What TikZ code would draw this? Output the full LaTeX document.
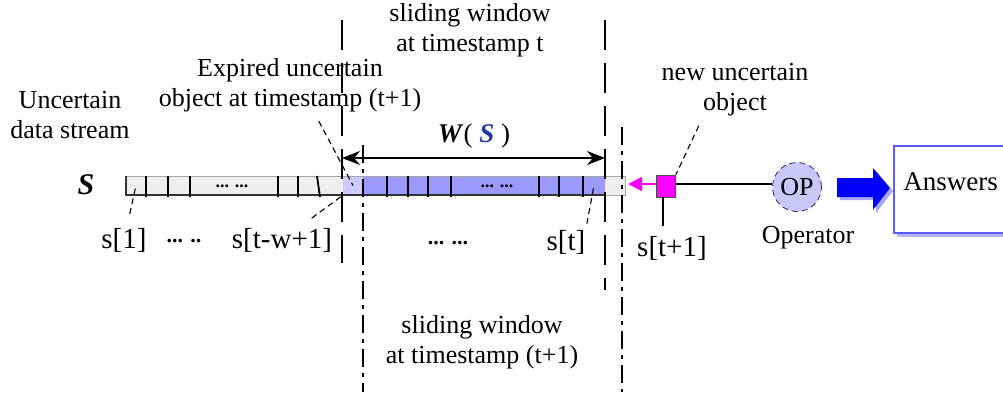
\documentclass[tikz,border=0pt]{standalone}
\usepackage{fontspec}
\setmainfont{Liberation Serif}
\usetikzlibrary{arrows.meta,positioning}

\begin{document}
\begin{tikzpicture}[
    x=0.5pt, y=-0.5pt,
    % Estilo para los textos
    label text/.style={font=\fontsize{13}{15}\selectfont, align=center, inner sep=0pt},
    index text/.style={font=\fontsize{14.5}{16}\selectfont, inner sep=0pt},
    dots text/.style={font=\fontsize{9}{10}\bfseries, inner sep=0pt},
    % Estilo para las celdas y las ventanas
    cell/.style={minimum height=9.5pt, inner sep=0pt, draw=none},
    window line/.style={line width=0.7pt, dash pattern=on 15pt off 6.5pt},
    window dashdot/.style={line width=0.7pt, dash pattern=on 9pt off 3pt on 2pt off 3pt},
    leader line/.style={line width=0.55pt, densely dashed},
    cell line/.style={line width=0.9pt}
]
    % Configuración de colores
    \definecolor{cellgrey}{RGB}{238,238,238}
    \definecolor{cellblue}{RGB}{153,153,255}
    \definecolor{expiredblue}{RGB}{204,204,255}
    \definecolor{opfill}{RGB}{200,200,248}
    \definecolor{opborder}{RGB}{30,30,120}
    \definecolor{answerblue}{RGB}{90,90,255}
    \definecolor{newmagenta}{RGB}{255,0,255}
    \definecolor{sblue}{RGB}{30,60,160}

    % Marco fijo de la figura
    \useasboundingbox (0,0) rectangle (1003,392);
    \clip (0,0) rectangle (1003,392);

    % Barra del flujo de datos
    \fill[cellgrey] (126,176) rectangle (625,195);
    \node[cell, fill=cellgrey, minimum width=10pt] (cellfirst) at (136,185.5) {};
    \node[cell, fill=expiredblue, minimum width=10pt] (cellexp) at (353,185.5) {};
    \fill[cellblue] (363,176) rectangle (605,195);
    \node[cell, minimum width=11pt] (celllast) at (594,185.5) {};
    \draw[gray!70] (126,176) rectangle (625,195);
    \draw[black!80, line width=0.9pt] (126,176) -- (126,195) -- (605,195);

    % Divisiones de las celdas
    \foreach \cx in {146,168,190,278,298,387,408,428,451,539,559,583}{
        \draw[cell line] (\cx,176) -- (\cx,197);
    }
    \draw[cell line] (317,176) -- (320,197);

    % Puntos suspensivos dentro de la barra
    \node[dots text] (dotsgrey) at (232,186) {... ...};
    \node[dots text] (dotsblue) at (497,186) {... ...};

    % Líneas de las ventanas deslizantes
    \coordinate (wtopleft) at (342,20);
    \coordinate (wbotleft) at (342,263);
    \coordinate (wtopright) at (605,20);
    \coordinate (wbotright) at (605,290);
    \draw[window line] (wtopleft) -- (wbotleft);
    \draw[window line] (wtopright) -- (wbotright);
    \coordinate (nwtopleft) at (363,145);
    \coordinate (nwbotleft) at (363,392);
    \coordinate (nwtopright) at (622,127);
    \coordinate (nwbotright) at (622,392);
    \draw[window dashdot] (nwtopleft) -- (nwbotleft);
    \draw[window dashdot] (nwtopright) -- (nwbotright);

    % Flecha del tamaño de la ventana W(S)
    \coordinate (wleft) at (342,158);
    \coordinate (wright) at (605,158);
    \draw[line width=0.8pt, {Stealth[length=9pt,width=7pt]}-{Stealth[length=9pt,width=7pt]}] (wleft) -- (wright);
    \node[font=\fontsize{13.5}{15}\selectfont, inner sep=0pt] (wsize) at (474,136)
        {\textbf{\textit{W}}( \textcolor{sblue}{\textbf{\textit{S}}} )};

    % Textos superiores
    \node[label text] (slidet) at (470,30) {sliding window\\at timestamp t};
    \node[label text] (expired) at (290,85) {Expired uncertain\\object at timestamp (t+1)};
    \node[label text] (stream) at (70,115) {Uncertain\\data stream};
    \node[label text] (newlab) at (735,90) {new uncertain\\object};
    \node[label text] (slidetone) at (482,342) {sliding window\\at timestamp (t+1)};

    % Nombre del flujo
    \node[font=\fontsize{15}{16}\selectfont, inner sep=0pt] (sname) at (86,185) {\textbf{\textit{S}}};

    % Índices bajo la barra
    \node[index text] (sone) at (124,240) {s[1]};
    \node[dots text, font=\fontsize{11}{12}\bfseries] (dotsone) at (184,241) {... ..};
    \node[index text] (stw) at (282,240) {s[t-w+1]};
    \node[dots text, font=\fontsize{11}{12}\bfseries] (dotstwo) at (448,243) {... ...};
    \node[index text] (st) at (566,242) {s[t]};

    % Líneas guía hacia las celdas
    \draw[leader line, shorten <=7pt] (sone) -- (cellfirst.center);
    \draw[leader line, shorten <=8pt] (stw) -- (cellexp.south west);
    \draw[leader line, shorten <=5pt] ([xshift=12pt]expired.south) -- (cellexp.center);
    \draw[leader line, shorten <=3pt] (st.north east) -- (celllast.center);

    % Nuevo objeto incierto
    \node[draw=black!70, fill=newmagenta, minimum width=9.5pt, minimum height=11pt, inner sep=0pt] (newobj) at (666,186) {};
    \coordinate (newtip) at (628,184);
    \draw[newmagenta, line width=1pt, -{Triangle[length=7pt,width=7pt]}] (newobj.west |- newtip) -- (newtip);
    \node[index text] (stone) at (672,248) {s[t+1]};
    \draw[line width=0.7pt] ([xshift=-1.5pt]newobj.south) -- ([xshift=-1.5pt,yshift=5pt]newobj.south |- stone.north);
    \draw[leader line, shorten <=5pt] ([xshift=-16pt]newlab.south) -- (newobj.north east);

    % Operador
    \node[circle, draw=opborder, densely dashed, fill=opfill, minimum size=24.5pt, inner sep=0pt,
        font=\fontsize{13}{15}\selectfont] (op) at (797,187) {OP};
    \draw[line width=0.8pt] (newobj.east |- newtip) -- (op.west |- newtip);
    \node[label text] (oplab) at (808,238) {Operator};

    % Flecha gruesa hacia las respuestas (con sombra)
    \fill[blue!35] (840,181) -- (876,181) -- (876,171) -- (893,191) -- (876,213) -- (876,200) -- (840,200) -- cycle;
    \fill[blue] (837,178) -- (873,178) -- (873,168) -- (890,188) -- (873,210) -- (873,197) -- (837,197) -- cycle;

    % Caja de respuestas (con sombra)
    \fill[answerblue!45] (897,149) rectangle (1040,237);
    \node[draw=answerblue, line width=0.8pt, fill=white, anchor=north west,
        minimum width=70pt, minimum height=43.5pt, inner sep=0pt] (answers) at (893,145) {};
    \node[label text, font=\fontsize{13.5}{15}\selectfont, anchor=west] (anstext) at (903,182) {Answers};

\end{tikzpicture}
\end{document}
